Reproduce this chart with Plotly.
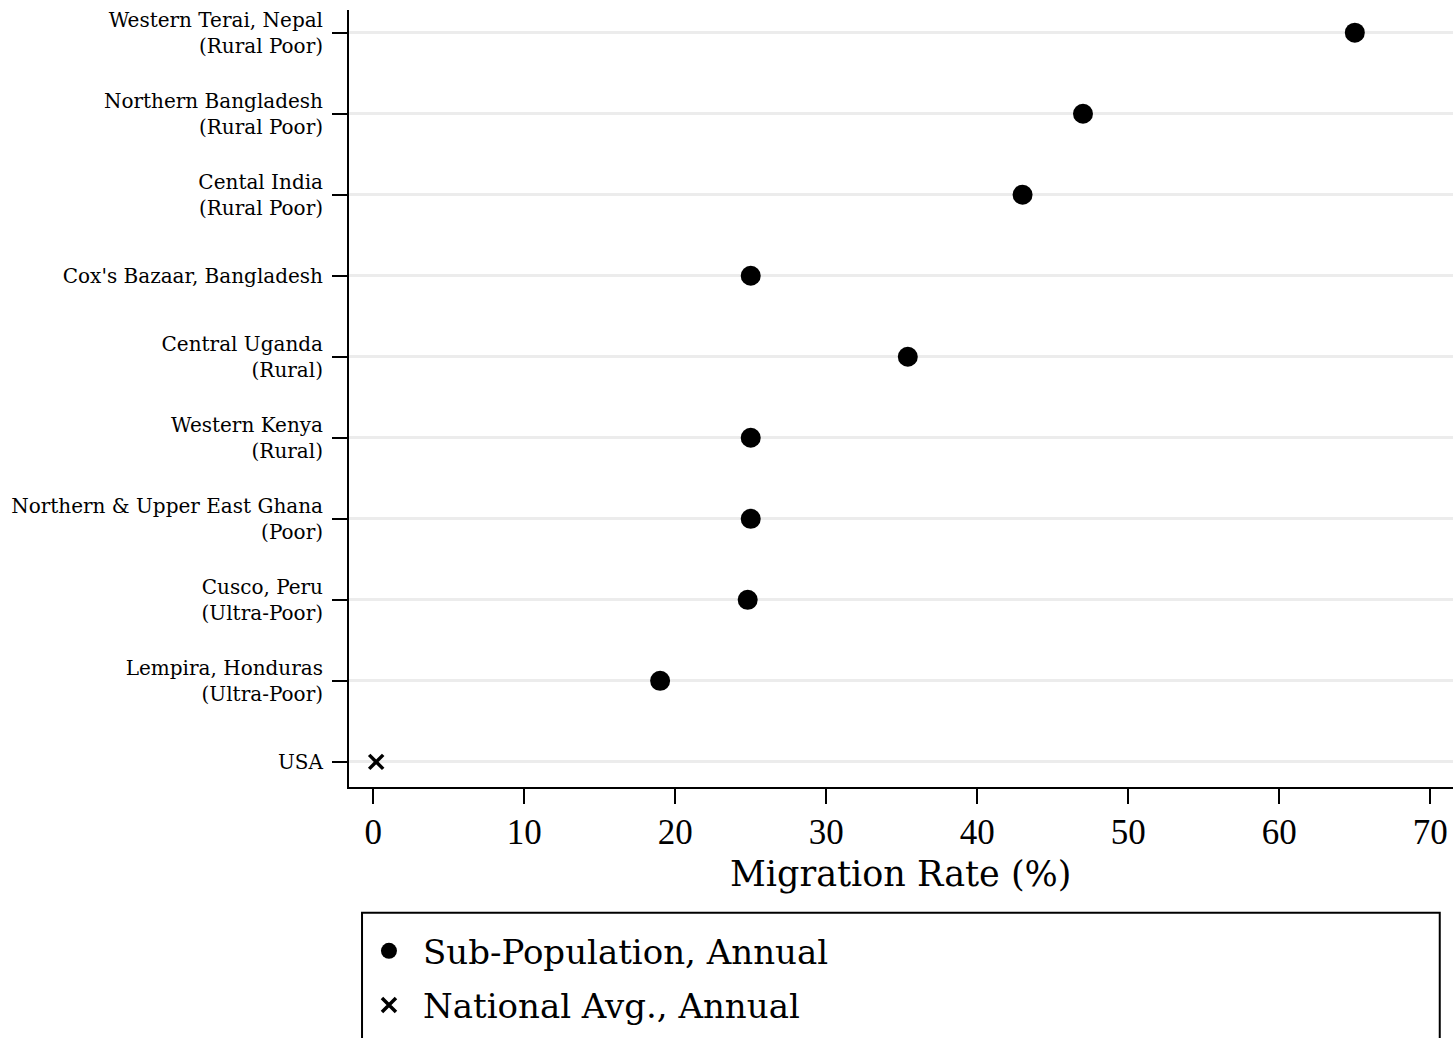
import plotly.graph_objects as go

categories = [
    "Western Terai, Nepal<br>(Rural Poor)",
    "Northern Bangladesh<br>(Rural Poor)",
    "Cental India<br>(Rural Poor)",
    "Cox's Bazaar, Bangladesh",
    "Central Uganda<br>(Rural)",
    "Western Kenya<br>(Rural)",
    "Northern & Upper East Ghana<br>(Poor)",
    "Cusco, Peru<br>(Ultra-Poor)",
    "Lempira, Honduras<br>(Ultra-Poor)",
    "USA",
]
sub_values = [65.0, 47.0, 43.0, 25.0, 35.4, 25.0, 25.0, 24.8, 19.0]
national_values = [0.2]
x_ticks = [0, 10, 20, 30, 40, 50, 60, 70]

n = len(categories)
ypos = [n - 1 - i for i in range(n)]

TEXT_FONT = "DejaVu Serif"
NUM_FONT = "Liberation Serif"

fig = go.Figure()
fig.add_trace(go.Scatter(
    x=sub_values, y=ypos[:len(sub_values)], mode="markers",
    name="Sub-Population, Annual", legendgroup="a",
    marker=dict(symbol="circle", size=20, color="black"),
))
fig.add_trace(go.Scatter(
    x=national_values, y=ypos[len(sub_values):], mode="markers",
    name="National Avg., Annual", legendgroup="b",
    marker=dict(symbol="x-thin", size=14, color="black",
                line=dict(width=3.5, color="black")),
))

fig.update_layout(
    width=1453, height=1038,
    margin=dict(l=349, r=0, t=10, b=251),
    plot_bgcolor="white", paper_bgcolor="white",
    font=dict(family=TEXT_FONT, color="black"),
    showlegend=True,
    legend=dict(
        x=0.0054, y=-0.174, xanchor="left", yanchor="top",
        font=dict(size=34, family=TEXT_FONT),
        tracegroupgap=7, bgcolor="rgba(0,0,0,0)",
        itemwidth=58,
    ),
    shapes=[dict(type="rect", xref="paper", yref="paper",
                 x0=0.0118, x1=0.988, y0=-0.162, y1=-0.45,
                 line=dict(color="black", width=2), fillcolor="rgba(0,0,0,0)")],
    annotations=[dict(text="Migration Rate (%)", xref="paper", yref="paper",
                      x=0.5, y=-0.1115, xanchor="center", yanchor="middle",
                      showarrow=False, font=dict(size=35, family=TEXT_FONT))],
)
fig.update_xaxes(
    range=[-1.6, 71.5], tickvals=x_ticks, ticktext=[str(t) for t in x_ticks],
    showgrid=False, zeroline=False, showline=True, linecolor="black", linewidth=2,
    ticks="outside", ticklen=15, tickwidth=2, tickcolor="black",
    tickfont=dict(size=35, family=NUM_FONT),
    ticklabelstandoff=-2,
)
fig.update_yaxes(
    range=[-0.31, n - 1 + 0.28], tickvals=ypos, ticktext=categories,
    showgrid=True, gridcolor="#ececec", gridwidth=3, zeroline=False,
    showline=True, linecolor="black", linewidth=2,
    ticks="outside", ticklen=15, tickwidth=2, tickcolor="black",
    tickfont=dict(size=20, family=TEXT_FONT),
    ticklabelstandoff=5,
)

fig.write_html("out.html")
